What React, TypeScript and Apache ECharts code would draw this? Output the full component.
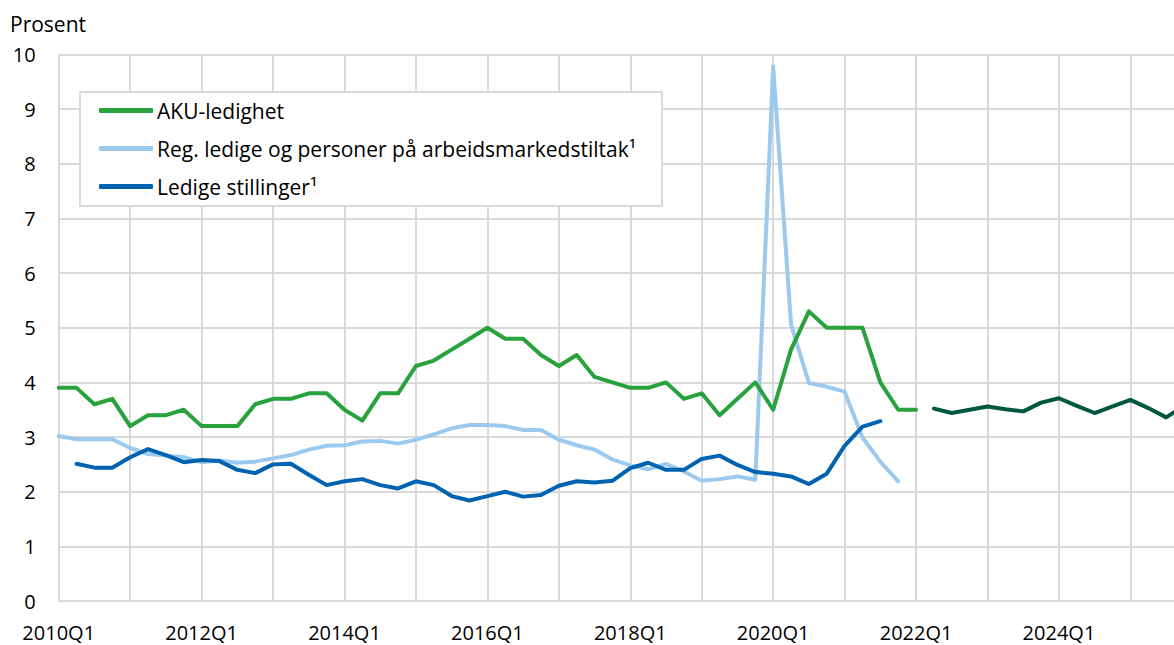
import React, { useEffect, useRef } from "react";
import * as echarts from "echarts";

const categories = [
  "2010Q1","2010Q2","2010Q3","2010Q4","2011Q1","2011Q2","2011Q3","2011Q4",
  "2012Q1","2012Q2","2012Q3","2012Q4","2013Q1","2013Q2","2013Q3","2013Q4",
  "2014Q1","2014Q2","2014Q3","2014Q4","2015Q1","2015Q2","2015Q3","2015Q4",
  "2016Q1","2016Q2","2016Q3","2016Q4","2017Q1","2017Q2","2017Q3","2017Q4",
  "2018Q1","2018Q2","2018Q3","2018Q4","2019Q1","2019Q2","2019Q3","2019Q4",
  "2020Q1","2020Q2","2020Q3","2020Q4","2021Q1","2021Q2","2021Q3","2021Q4",
  "2022Q1","2022Q2","2022Q3","2022Q4","2023Q1","2023Q2","2023Q3","2023Q4",
  "2024Q1","2024Q2","2024Q3","2024Q4","2025Q1","2025Q2","2025Q3","2025Q4",
];

const akuLedighet = [
  3.9, 3.9, 3.6, 3.7, 3.2, 3.4, 3.4, 3.5,
  3.2, 3.2, 3.2, 3.6, 3.7, 3.7, 3.8, 3.8,
  3.5, 3.3, 3.8, 3.8, 4.3, 4.4, 4.6, 4.8,
  5.0, 4.8, 4.8, 4.5, 4.3, 4.5, 4.1, 4.0,
  3.9, 3.9, 4.0, 3.7, 3.8, 3.4, 3.7, 4.0,
  3.5, 4.6, 5.3, 5.0, 5.0, 5.0, 4.0, 3.5,
  3.5, null, null, null, null, null, null, null,
  null, null, null, null, null, null, null, null,
];

const regLedige = [
  3.02, 2.96, 2.96, 2.96, 2.8, 2.69, 2.66, 2.63,
  2.54, 2.57, 2.53, 2.55, 2.61, 2.67, 2.77, 2.84,
  2.85, 2.92, 2.93, 2.88, 2.95, 3.05, 3.16, 3.22,
  3.22, 3.2, 3.13, 3.13, 2.95, 2.85, 2.77, 2.59,
  2.48, 2.41, 2.51, 2.37, 2.2, 2.23, 2.28, 2.22,
  9.78, 5.06, 3.99, 3.92, 3.83, 2.99, 2.55, 2.19,
  null, null, null, null, null, null, null, null,
  null, null, null, null, null, null, null, null,
];

const ledigeStillinger = [
  null, 2.51, 2.44, 2.44, 2.63, 2.78, 2.67, 2.54,
  2.58, 2.56, 2.4, 2.34, 2.5, 2.51, 2.31, 2.12,
  2.19, 2.23, 2.12, 2.06, 2.19, 2.12, 1.92, 1.84,
  1.92, 2.0, 1.91, 1.94, 2.11, 2.19, 2.17, 2.2,
  2.43, 2.53, 2.4, 2.4, 2.6, 2.66, 2.49, 2.36,
  2.33, 2.28, 2.14, 2.33, 2.84, 3.19, 3.29, null,
  null, null, null, null, null, null, null, null,
  null, null, null, null, null, null, null, null,
];

const akuProjection = [
  null, null, null, null, null, null, null, null,
  null, null, null, null, null, null, null, null,
  null, null, null, null, null, null, null, null,
  null, null, null, null, null, null, null, null,
  null, null, null, null, null, null, null, null,
  null, null, null, null, null, null, null, null,
  null, 3.52, 3.44, 3.5, 3.56, 3.51, 3.47, 3.63,
  3.71, 3.57, 3.44, 3.56, 3.68, 3.53, 3.36, 3.57,
];

const seriesNames = [
  "AKU-ledighet",
  "Reg. ledige og personer på arbeidsmarkedstiltak¹",
  "Ledige stillinger¹",
];

const FONT = "'Open Sans', 'Noto Sans', sans-serif";
const GRID = "#d9d9d9";

export default function App() {
  const ref = useRef<HTMLDivElement>(null);

  useEffect(() => {
    if (!ref.current) return;
    const chart = echarts.init(ref.current, undefined, { renderer: "svg" });
    const lineSeries = (name: string, data: (number | null)[], color: string, z = 2) => ({
      name,
      type: "line",
      data,
      symbol: "none",
      z,
      lineStyle: { color, width: 4, cap: "round", join: "round" },
      itemStyle: { color },
      emphasis: { disabled: true },
    });
    chart.setOption({
      animation: false,
      textStyle: { fontFamily: FONT },
      grid: { left: 58.7, right: 0, top: 54.5, bottom: 44 },
      graphic: [
        {
          type: "text",
          left: 10,
          top: 13,
          style: { text: "Prosent", font: `21px ${FONT}`, fill: "#000" },
        },
      ],
      legend: {
        orient: "vertical",
        left: 80,
        top: 92,
        data: seriesNames,
        backgroundColor: "#fff",
        borderColor: GRID,
        borderWidth: 2,
        borderRadius: 0,
        padding: [8, 26, 9, 19],
        itemWidth: 54,
        itemHeight: 5,
        itemGap: 17,
        icon: "roundRect",
        textStyle: { fontSize: 21, lineHeight: 21, color: "#000", fontFamily: FONT, padding: [0, 0, 0, -1] },
      },
      xAxis: {
        type: "category",
        data: categories,
        boundaryGap: false,
        axisLine: { show: true, lineStyle: { color: GRID, width: 2 } },
        axisTick: { show: false },
        axisLabel: { interval: 7, margin: 21, fontSize: 20, color: "#000", fontFamily: FONT },
        splitLine: { show: true, interval: 3, lineStyle: { color: GRID, width: 2 } },
      },
      yAxis: {
        type: "value",
        min: 0,
        max: 10,
        interval: 1,
        axisLine: { show: false },
        axisTick: { show: false },
        axisLabel: { margin: 23, fontSize: 20, color: "#000", fontFamily: FONT },
        splitLine: { show: true, lineStyle: { color: GRID, width: 2 } },
      },
      series: [
        lineSeries(seriesNames[1], regLedige, "#9ccaee", 2),
        lineSeries(seriesNames[0], akuLedighet, "#27a23d", 3),
        lineSeries(seriesNames[2], ledigeStillinger, "#0063b1", 4),
        lineSeries("AKU-ledighet anslag", akuProjection, "#00573f", 3),
      ],
    });
    return () => chart.dispose();
  }, []);

  return (
    <div
      style={{ position: "fixed", left: 0, top: 0, width: 1174, height: 645, overflow: "hidden", background: "#fff" }}
    >
      <div ref={ref} style={{ width: 1184, height: 645 }} />
    </div>
  );
}
